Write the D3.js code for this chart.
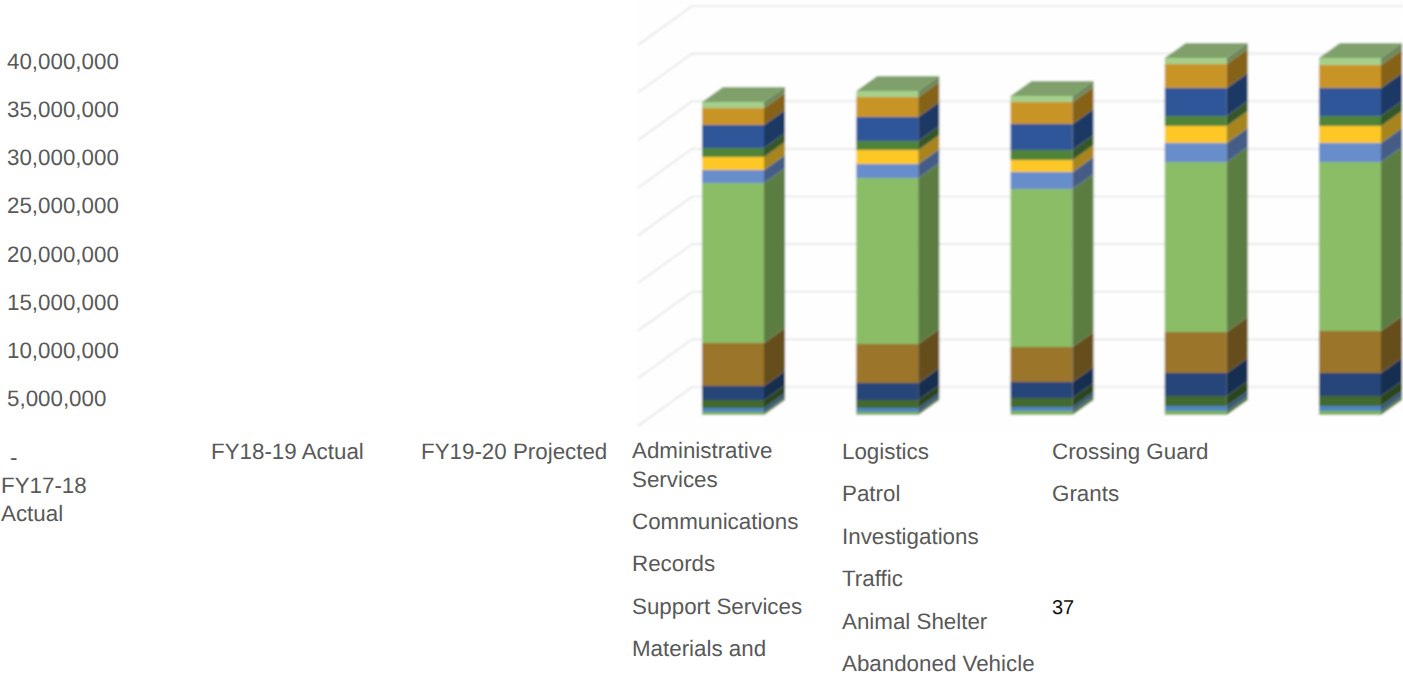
<!DOCTYPE html>
<html>
<head>
<meta charset="utf-8">
<script src="https://d3js.org/d3.v7.min.js"></script>
<style>
  html, body { margin: 0; padding: 0; background: #fff; overflow: hidden; }
  text { font-family: "Liberation Sans", Arial, sans-serif; text-rendering: geometricPrecision; }
</style>
</head>
<body>
<svg id="chart" width="1403" height="676"></svg>
<script>
// values, dollars
const bars = ["FY17-18 Actual", "FY18-19 Actual", "FY19-20 Projected", "Bar 4", "Bar 5"];
const seriesNames = ["Administrative Services", "Communications", "Records", "Support Services",
  "Materials and Logistics", "Patrol", "Investigations", "Traffic", "Animal Shelter",
  "Abandoned Vehicle", "Crossing Guard", "Grants"];

const adminServices = [315000, 315000, 420000, 420000, 420000];
const communications = [420000, 420000, 420000, 525000, 525000];
const records = [840000, 840000, 945000, 1050000, 1050000];
const supportServices = [1470000, 1785000, 1680000, 2415000, 2415000];
const materials = [4515000, 4095000, 3675000, 4305000, 4410000];
const patrol = [16800000, 17430000, 16590000, 17850000, 17745000];
const investigations = [1365000, 1470000, 1785000, 1995000, 1995000];
const traffic = [1365000, 1470000, 1260000, 1785000, 1785000];
const animalShelter = [945000, 945000, 1050000, 1050000, 1050000];
const abandonedVehicle = [2415000, 2520000, 2730000, 2940000, 2940000];
const crossingGuard = [1785000, 2100000, 2310000, 2520000, 2415000];
const grants = [630000, 630000, 630000, 630000, 735000];

const seriesValues = [adminServices, communications, records, supportServices, materials, patrol,
  investigations, traffic, animalShelter, abandonedVehicle, crossingGuard, grants];
const seriesColors = ["#7fb35a", "#4f86bd", "#43692e", "#264478", "#9a742b", "#8abd66",
  "#688dcb", "#fdc827", "#4f8439", "#2f5799", "#c99426", "#a5d08b"];

const yTicks = [0, 5000000, 10000000, 15000000, 20000000, 25000000, 30000000, 35000000, 40000000];

// text that sits under the chart, one list per column
const legendCol1 = [["Administrative", "Services"], ["Communications"], ["Records"], ["Support Services"], ["Materials and"]];
const legendCol2 = [["Logistics"], ["Patrol"], ["Investigations"], ["Traffic"], ["Animal Shelter"], ["Abandoned Vehicle"]];
const legendCol3 = [["Crossing Guard"], ["Grants"]];
const pageNumber = "37";

const depthX = 21, depthY = 15;
const textColor = "#595959", fontSize = 22.35;

const svg = d3.select("#chart");

const x = d3.scaleBand().domain(bars).range([702, 1381]).paddingInner(0.598).paddingOuter(0);
const y = d3.scaleLinear().domain([0, 40000000]).range([415, 34]);
// the tick labels are spaced a little wider than the plot
const yLabel = d3.scaleLinear().domain([0, 40000000]).range([446.8, 61.2]);

// rows for d3.stack
const table = bars.map((b, i) => {
  const row = { bar: b };
  seriesNames.forEach((s, j) => { row[s] = seriesValues[j][i]; });
  return row;
});
const stacked = d3.stack().keys(seriesNames)(table);

const defs = svg.append("defs");
defs.append("filter").attr("id", "soft")
  .attr("x", "-2%").attr("y", "-2%").attr("width", "104%").attr("height", "104%")
  .append("feGaussianBlur").attr("stdDeviation", 1);

const plot = svg.append("g").attr("filter", "url(#soft)");

plot.append("rect").attr("x", 636).attr("y", 0).attr("width", 767).attr("height", 432).attr("fill", "#fefefe");

// gridlines, slanted part on the left then along the back wall
plot.append("g").selectAll("path")
  .data(yTicks)
  .join("path")
    .attr("fill", "none")
    .attr("stroke", "#e6e6e6")
    .attr("stroke-width", 1.6)
    .attr("d", d => `M638,${y(d) + 11}L692,${y(d) - 28}L1403,${y(d) - 28}`);

function shade(c, k) {
  const r = d3.rgb(c);
  return d3.rgb(r.r * k, r.g * k, r.b * k).formatHex();
}

const layers = plot.append("g").selectAll("g")
  .data(stacked)
  .join("g");

// front faces
layers.selectAll("rect.front")
  .data(d => d.map(p => ({ y0: p[0], y1: p[1], bar: p.data.bar, key: d.key, i: d.index })))
  .join("rect")
    .attr("class", "front")
    .attr("x", d => x(d.bar))
    .attr("width", x.bandwidth())
    .attr("y", d => y(d.y1))
    .attr("height", d => y(d.y0) - y(d.y1))
    .attr("fill", d => seriesColors[d.i]);

// side faces
layers.selectAll("path.side")
  .data(d => d.map(p => ({ y0: p[0], y1: p[1], bar: p.data.bar, i: d.index })))
  .join("path")
    .attr("class", "side")
    .attr("fill", d => shade(seriesColors[d.i], 0.66))
    .attr("d", d => {
      const r = x(d.bar) + x.bandwidth();
      return `M${r},${y(d.y0)}L${r + depthX},${y(d.y0) - depthY}L${r + depthX},${y(d.y1) - depthY}L${r},${y(d.y1)}Z`;
    });

// top faces, on the last series only
plot.append("g").selectAll("path")
  .data(stacked[stacked.length - 1])
  .join("path")
    .attr("fill", shade(seriesColors[seriesColors.length - 1], 0.77))
    .attr("d", d => {
      const l = x(d.data.bar), r = l + x.bandwidth(), t = y(d[1]);
      return `M${l},${t}L${l + depthX},${t - depthY}L${r + depthX},${t - depthY}L${r},${t}Z`;
    });

// value axis, labels are left aligned; the zero label is a dash that sits lower
const axis = d3.axisLeft(yLabel)
  .tickValues(yTicks)
  .tickSize(0)
  .tickPadding(0)
  .tickFormat(d => d === 0 ? "-" : d3.format(",")(d));

const axisG = svg.append("g")
  .attr("transform", "translate(7,0)")
  .call(axis);
axisG.select(".domain").remove();
axisG.selectAll("text")
  .attr("fill", textColor)
  .attr("text-anchor", "start")
  .style("font-size", fontSize + "px")
  .style("font-family", '"Liberation Sans", Arial, sans-serif');
axisG.selectAll(".tick").filter(d => d === 0)
  .attr("transform", "translate(3,458)");

function addText(str, px, py, color, size) {
  svg.append("text")
    .attr("x", px)
    .attr("y", py)
    .attr("fill", color || textColor)
    .style("font-size", (size || fontSize) + "px")
    .text(str);
}

// category labels, the chart only names the first three
addText("FY17-18", 1, 493);
addText("Actual", 1, 521);
addText(bars[1], 211, 459);
addText(bars[2], 421, 459);

function addColumn(col, px, startY) {
  let py = startY;
  col.forEach(entry => {
    entry.forEach((line, k) => {
      addText(line, px, py);
      py += k < entry.length - 1 ? 28.6 : 42.4;
    });
  });
}
addColumn(legendCol1, 632, 458);
addColumn(legendCol2, 842, 459);
addColumn(legendCol3, 1052, 459);

addText(pageNumber, 1052, 614, "#111", 20);
</script>
</body>
</html>
